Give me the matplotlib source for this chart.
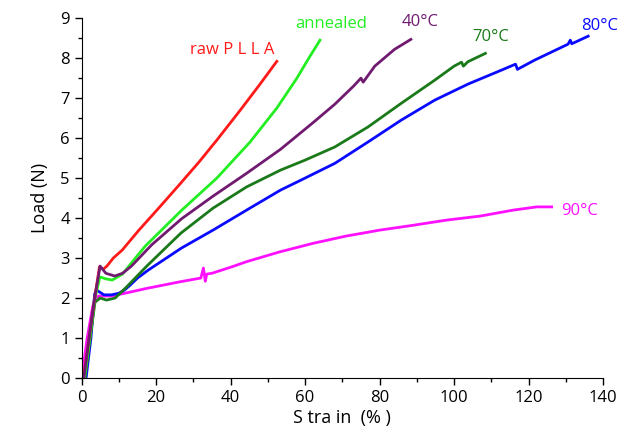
import numpy as np
import matplotlib
matplotlib.use("Agg")
from matplotlib import pyplot as plt
from matplotlib.ticker import MultipleLocator

plt.rcParams['font.family'] = ['Open Sans', 'DejaVu Sans']

# strain (%) and load (N), one pair of lists per sample
raw_x = [0.5, 2.0, 3.5, 4.8, 5.8, 6.8, 8.5, 10.9, 15.4, 20.7, 26.1, 31.5, 36.3, 42.6, 47.9, 52.4]
raw_y = [0.0, 1.0, 2.0, 2.78, 2.72, 2.8, 3.0, 3.2, 3.7, 4.25, 4.82, 5.4, 5.95, 6.7, 7.35, 7.92]

ann_x = [0.8, 2.2, 3.6, 4.9, 6.5, 8.2, 11.0, 14.0, 17.1, 26.9, 36.3, 45.2, 52.4, 57.8, 61.0, 64.0]
ann_y = [0.0, 1.0, 2.0, 2.53, 2.48, 2.45, 2.6, 2.95, 3.3, 4.2, 5.0, 5.9, 6.75, 7.5, 8.0, 8.45]

c40_x = [0.6, 2.0, 3.5, 4.96, 6.5, 8.9, 11.0, 13.4, 18.8, 26.8, 35.3, 44.3, 53.4, 62.3, 68.0, 73.0, 75.0, 75.6, 78.7, 84.0, 88.4]
c40_y = [0.0, 1.0, 2.0, 2.8, 2.62, 2.55, 2.62, 2.8, 3.33, 3.98, 4.55, 5.12, 5.72, 6.4, 6.85, 7.3, 7.5, 7.4, 7.8, 8.22, 8.47]

c70_x = [0.9, 2.3, 3.6, 5.0, 6.7, 9.0, 12.1, 17.5, 26.6, 35.3, 44.3, 53.4, 60.0, 68.0, 76.9, 85.8, 94.8, 100.0, 102.0, 102.5, 103.7, 108.4]
c70_y = [0.0, 1.0, 1.9, 2.0, 1.95, 2.0, 2.28, 2.8, 3.62, 4.25, 4.78, 5.2, 5.45, 5.78, 6.28, 6.87, 7.45, 7.8, 7.9, 7.8, 7.91, 8.12]

c80_x = [1.2, 2.5, 3.5, 4.0, 6.0, 8.0, 10.0, 11.5, 13.0, 15.0, 17.9, 26.8, 35.3, 44.3, 53.4, 58.9, 68.0, 77.0, 85.8, 94.8, 103.7, 112.7, 116.5, 117.0, 121.6, 130.6, 131.2, 131.6, 136.0]
c80_y = [0.0, 1.0, 2.1, 2.2, 2.08, 2.08, 2.12, 2.2, 2.32, 2.5, 2.7, 3.25, 3.7, 4.2, 4.7, 4.95, 5.37, 5.91, 6.45, 6.95, 7.35, 7.7, 7.85, 7.72, 7.95, 8.35, 8.45, 8.36, 8.55]

c90_x = [0.0, 1.5, 3.0, 4.5, 6.0, 8.0, 11.6, 17.4, 26.6, 32.0, 32.7, 33.2, 33.6, 35.0, 40.3, 44.3, 53.0, 62.2, 71.0, 80.1, 89.0, 98.0, 107.0, 115.9, 122.2, 126.2]
c90_y = [0.0, 1.0, 1.8, 2.05, 2.05, 2.05, 2.12, 2.24, 2.41, 2.5, 2.75, 2.42, 2.6, 2.62, 2.78, 2.91, 3.15, 3.37, 3.55, 3.7, 3.82, 3.95, 4.05, 4.2, 4.28, 4.28]

names = ['raw P L L A', 'annealed', '40°C', '70°C', '80°C', '90°C']
colors = ['#ff1a1a', '#22ee22', '#701a70', '#1a7a1a', '#0a0aff', '#ff11ff']
label_x = [40.5, 67.0, 91.0, 109.7, 139.0, 133.8]
label_y = [8.2, 8.85, 8.9, 8.52, 8.8, 4.18]

series = [(raw_x, raw_y), (ann_x, ann_y), (c40_x, c40_y),
          (c70_x, c70_y), (c80_x, c80_y), (c90_x, c90_y)]

fig = plt.figure(figsize=(6.23, 4.33), dpi=100)
ax = fig.add_axes([0.131, 0.127, 0.837, 0.831])

# draw the cooler ones first so the steep red curve sits on top at the yield point
order = [5, 4, 3, 1, 0, 2]
for i in order:
    x, y = series[i]
    ax.plot(x, y, color=colors[i], lw=2.0, solid_joinstyle='round')

for i in range(6):
    ax.text(label_x[i], label_y[i], names[i], color=colors[i], fontsize=12,
            ha='center', va='center')

ax.set_xlim(0, 140)
ax.set_ylim(0, 9)
ax.xaxis.set_major_locator(MultipleLocator(20))
ax.xaxis.set_minor_locator(MultipleLocator(10))
ax.yaxis.set_major_locator(MultipleLocator(1))
ax.yaxis.set_minor_locator(MultipleLocator(0.5))
ax.tick_params(which='major', direction='out', length=5, width=1, labelsize=12)
ax.tick_params(which='minor', direction='out', length=3, width=1)
ax.spines['top'].set_visible(False)
ax.spines['right'].set_visible(False)
ax.set_xlabel('S tra in  (% )', fontsize=13, labelpad=2)
ax.set_ylabel('Load (N)', fontsize=13, labelpad=8)

fig.savefig('out.png', dpi=100)
